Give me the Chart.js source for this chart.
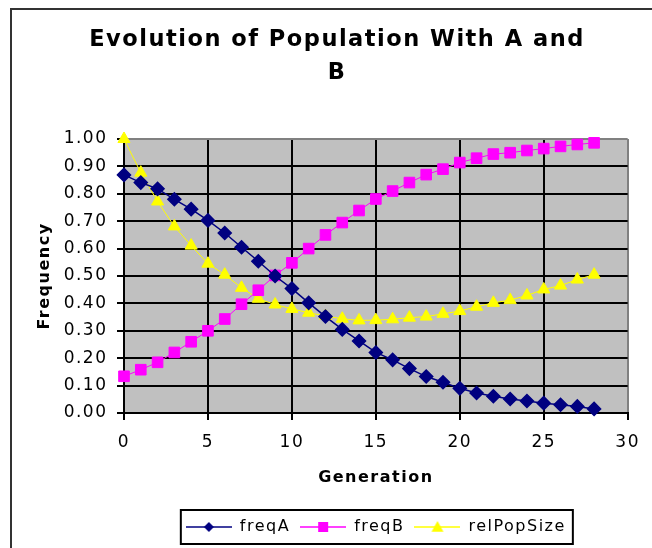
<!DOCTYPE html>
<html>
<head>
<meta charset="utf-8">
<title>Evolution of Population With A and B</title>
<script src="https://cdn.jsdelivr.net/npm/chart.js@4/dist/chart.umd.min.js"></script>
<style>
    html, body { margin: 0; padding: 0; background: #fff; overflow: hidden; }
    #wrap { position: relative; width: 652px; height: 548px; overflow: hidden; }
    #frame { position: absolute; left: 10px; top: 8px; width: 650px; height: 548px;
             border-left: 2px solid #333; border-top: 2px solid #333; }
    #chart { position: absolute; left: 0; top: 0; }
</style>
</head>
<body>
<div id="wrap">
    <div id="frame"></div>
    <canvas id="chart" width="652" height="548"></canvas>
</div>
<script>
// ===== DATOS =====
const generations = [0, 1, 2, 3, 4, 5, 6, 7, 8, 9, 10, 11, 12, 13, 14, 15, 16, 17, 18, 19, 20, 21, 22, 23, 24, 25, 26, 27, 28];
const freqA = [0.869, 0.841, 0.818, 0.780, 0.744, 0.703, 0.657, 0.605, 0.554, 0.500, 0.454, 0.402, 0.352, 0.305, 0.263,
               0.221, 0.194, 0.162, 0.133, 0.112, 0.090, 0.073, 0.061, 0.051, 0.044, 0.036, 0.030, 0.024, 0.015];
const freqB = [0.134, 0.158, 0.185, 0.221, 0.260, 0.300, 0.343, 0.397, 0.448, 0.502, 0.548, 0.600, 0.650, 0.695, 0.739,
               0.781, 0.810, 0.841, 0.870, 0.890, 0.914, 0.930, 0.945, 0.950, 0.958, 0.965, 0.973, 0.980, 0.986];
const relPopSize = [1.000, 0.877, 0.772, 0.681, 0.611, 0.545, 0.505, 0.457, 0.417, 0.396, 0.380, 0.366, 0.354, 0.344, 0.338,
                    0.339, 0.342, 0.348, 0.352, 0.362, 0.372, 0.388, 0.402, 0.412, 0.429, 0.451, 0.465, 0.487, 0.505];
const seriesNames = ['freqA', 'freqB', 'relPopSize'];
const xTicks = [0, 5, 10, 15, 20, 25, 30];
const yTicks = [0, 0.1, 0.2, 0.3, 0.4, 0.5, 0.6, 0.7, 0.8, 0.9, 1.0];

const FONT = "'DejaVu Sans', Verdana, sans-serif";

function toPoints(values) {
    return values.map((v, i) => ({ x: generations[i], y: v }));
}

// Glyph de leyenda: línea + marcador
function legendGlyph(color, shape, r) {
    const c = document.createElement('canvas');
    c.width = 46; c.height = 16;
    const g = c.getContext('2d');
    const cx = 23, cy = 8;
    g.strokeStyle = color; g.lineWidth = 1.5;
    g.beginPath(); g.moveTo(0, cy); g.lineTo(46, cy); g.stroke();
    g.fillStyle = color;
    g.beginPath();
    if (shape === 'rectRot') {
        g.moveTo(cx, cy - r); g.lineTo(cx + r, cy); g.lineTo(cx, cy + r); g.lineTo(cx - r, cy);
    } else if (shape === 'rect') {
        g.rect(cx - r, cy - r, 2 * r, 2 * r);
    } else {
        g.moveTo(cx, cy - r); g.lineTo(cx + r, cy + r * 0.8); g.lineTo(cx - r, cy + r * 0.8);
    }
    g.closePath(); g.fill();
    return c;
}

const glyphs = [
    legendGlyph('#000080', 'rectRot', 5),
    legendGlyph('#ff00ff', 'rect', 5),
    legendGlyph('#ffff00', 'triangle', 6)
];

// Espaciado de letras (fuente tipo Geneva, más ancha)
const spacing = {
    id: 'spacing',
    beforeLayout(chart) { chart.ctx.letterSpacing = '1.5px'; },
    beforeDraw(chart) { chart.ctx.letterSpacing = '1.5px'; }
};

// Leyenda centrada bajo el área de trazado
const legendCenter = {
    id: 'legendCenter',
    afterLayout(chart) {
        const l = chart.legend, a = chart.chartArea;
        l.left = a.left; l.right = a.right; l.width = a.right - a.left;
    }
};

// Fondo gris del área de trazado
const plotBg = {
    id: 'plotBg',
    beforeDraw(chart) {
        const { ctx, chartArea: a } = chart;
        ctx.save();
        ctx.fillStyle = '#c0c0c0';
        ctx.fillRect(a.left, a.top, a.right - a.left, a.bottom - a.top);
        ctx.restore();
    }
};

// Marco de la leyenda
const legendFrame = {
    id: 'legendFrame',
    afterDraw(chart) {
        const hb = chart.legend.legendHitBoxes;
        if (!hb || !hb.length) return;
        const left = Math.min(...hb.map(b => b.left)) - 5;
        const right = Math.max(...hb.map(b => b.left + b.width)) + 7;
        const top = hb[0].top - 9, bottom = hb[0].top + hb[0].height + 9;
        const ctx = chart.ctx;
        ctx.save();
        ctx.strokeStyle = '#000';
        ctx.lineWidth = 2;
        ctx.strokeRect(left, top, right - left, bottom - top);
        ctx.restore();
    }
};

const chart = new Chart(document.getElementById('chart').getContext('2d'), {
    type: 'line',
    data: {
        datasets: [
            { label: seriesNames[0], data: toPoints(freqA), borderColor: '#000080', backgroundColor: '#000080',
              borderWidth: 1.5, pointStyle: 'rectRot', pointRadius: 6.5, pointBorderColor: '#000080', pointBackgroundColor: '#000080' },
            { label: seriesNames[1], data: toPoints(freqB), borderColor: '#ff00ff', backgroundColor: '#ff00ff',
              borderWidth: 1, pointStyle: 'rect', pointRadius: 7.5, pointBorderColor: '#ff00ff', pointBackgroundColor: '#ff00ff' },
            { label: seriesNames[2], data: toPoints(relPopSize), borderColor: '#ffff00', backgroundColor: '#ffff00',
              borderWidth: 1, pointStyle: 'triangle', pointRadius: 7, pointBorderColor: '#ffff00', pointBackgroundColor: '#ffff00' }
        ]
    },
    options: {
        responsive: false,
        animation: false,
        devicePixelRatio: 1,
        clip: false,
        layout: { padding: { left: 40, right: 18, top: 10, bottom: 3 } },
        elements: { line: { tension: 0 }, point: { borderWidth: 1 } },
        plugins: {
            title: {
                display: true,
                text: ['Evolution of Population With A and', 'B'],
                color: '#000',
                font: { family: FONT, size: 22.5, weight: 'bold', lineHeight: '33px' },
                padding: { top: 14, bottom: 49 }
            },
            legend: {
                position: 'bottom',
                labels: {
                    usePointStyle: true,
                    pointStyleWidth: 46,
                    padding: 10,
                    color: '#000',
                    font: { family: FONT, size: 16 },
                    generateLabels: c => c.data.datasets.map((ds, i) => ({
                        text: ds.label, pointStyle: glyphs[i], fillStyle: ds.backgroundColor,
                        strokeStyle: ds.borderColor, lineWidth: 0, hidden: false, datasetIndex: i, fontColor: '#000'
                    }))
                }
            },
            tooltip: { enabled: false }
        },
        scales: {
            x: {
                type: 'linear', min: 0, max: 30,
                afterFit: s => { s.height = 96; },
                afterBuildTicks: s => { s.ticks = xTicks.map(v => ({ value: v })); },
                ticks: { color: '#000', font: { family: FONT, size: 17 }, padding: 12, maxRotation: 0 },
                grid: {
                    color: c => (c.tick && c.tick.value === 30 ? '#808080' : '#000'),
                    tickColor: '#000', lineWidth: 2, tickLength: 7
                },
                border: { color: '#000', width: 2 },
                title: { display: true, text: 'Generation', color: '#000',
                         font: { family: FONT, size: 16, weight: 'bold' }, padding: { top: 0, bottom: 22 } }
            },
            y: {
                min: 0, max: 1,
                afterFit: s => { s.width = 84; },
                afterBuildTicks: s => { s.ticks = yTicks.map(v => ({ value: v })); },
                ticks: { color: '#000', font: { family: FONT, size: 17 }, padding: 9.5, callback: v => v.toFixed(2) },
                grid: {
                    color: c => (c.tick && c.tick.value === 1 ? '#808080' : '#000'),
                    tickColor: '#000', lineWidth: 2, tickLength: 7
                },
                border: { color: '#000', width: 2 },
                title: { display: true, text: 'Frequency', color: '#000',
                         font: { family: FONT, size: 16, weight: 'bold' }, padding: { top: -5, bottom: 0 } }
            }
        }
    },
    plugins: [spacing, legendCenter, plotBg, legendFrame]
});
</script>
</body>
</html>
